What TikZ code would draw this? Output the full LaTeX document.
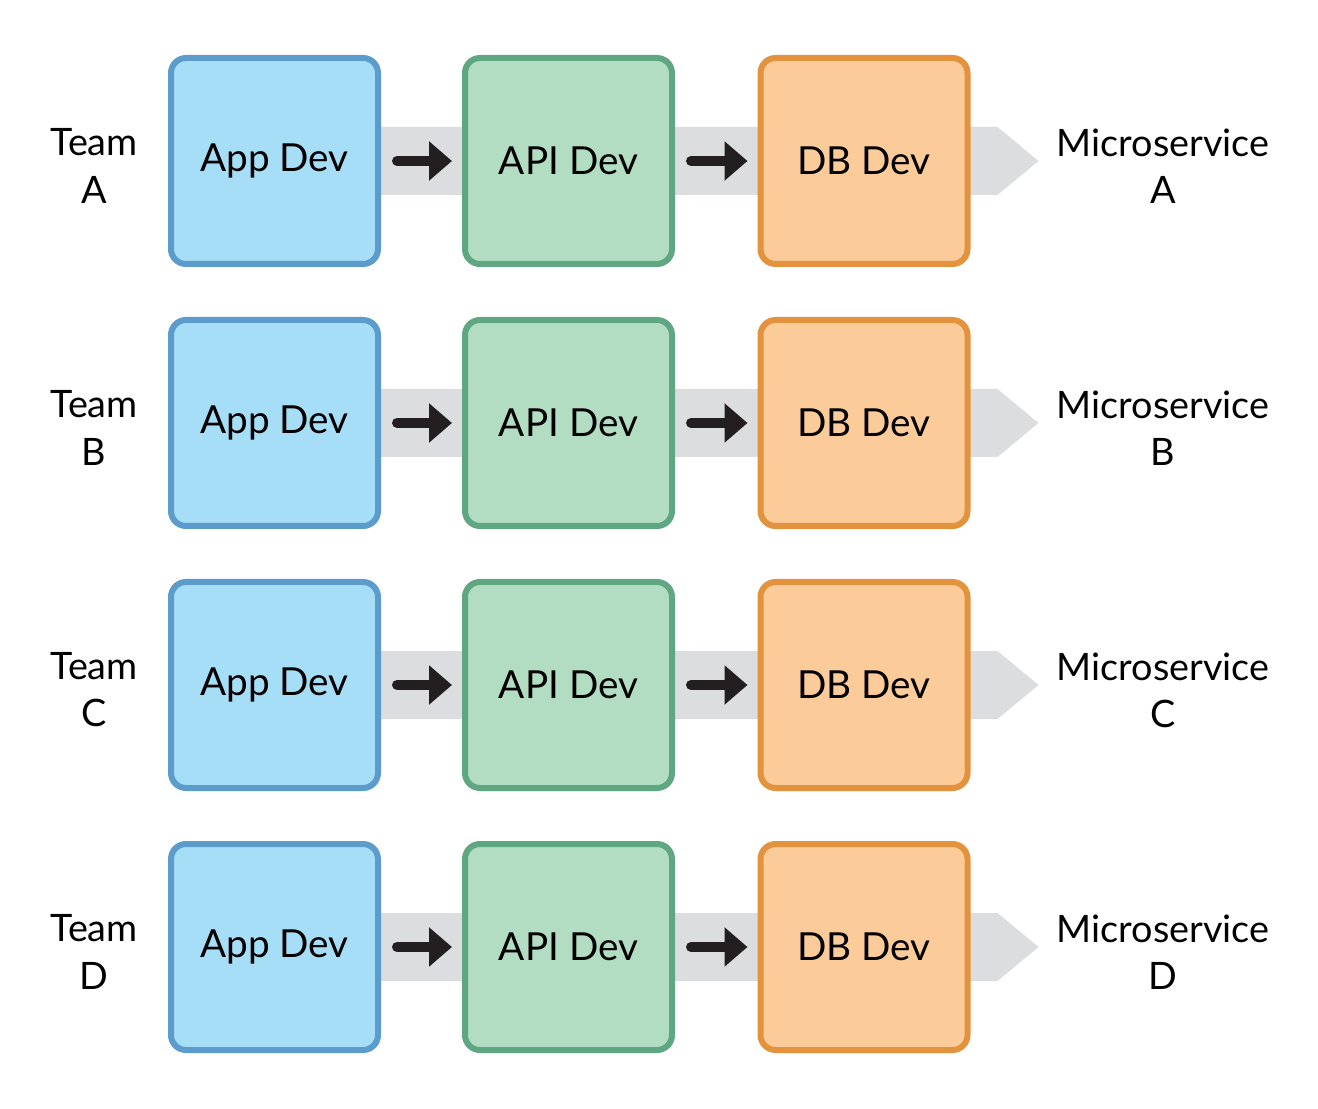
\documentclass[tikz,border=0pt]{standalone}
\usepackage{fontspec}
\setmainfont{Lato}
\usetikzlibrary{positioning,arrows.meta,calc,backgrounds}

\definecolor{appfill}{HTML}{A7DEF7}
\definecolor{appline}{HTML}{5B9CCC}
\definecolor{apifill}{HTML}{B2DDC3}
\definecolor{apiline}{HTML}{5FA683}
\definecolor{dbfill}{HTML}{FCCB9A}
\definecolor{dbline}{HTML}{E3923E}
\definecolor{bandgray}{HTML}{DCDDDE}
\definecolor{arrowblack}{HTML}{231F20}

\begin{document}
\begin{tikzpicture}[node distance=1.62cm,
  box/.style={rounded corners=0.3cm,line width=0.12cm,minimum width=4.14cm,
    minimum height=4.12cm,font=\fontsize{22}{26}\selectfont},
  side/.style={align=center,font=\fontsize{21.5}{26.8}\selectfont},
  flow/.style={-{Triangle[length=0.46cm,width=0.76cm]},line width=0.2cm,
    line cap=round,arrowblack,shorten <=0.32cm,shorten >=0.2cm}]
%canvas
\begin{pgfonlayer}{background}
\fill[white] (0,0) rectangle (26.36,22.16);
\end{pgfonlayer}
%rows
\foreach \t/\yy in {A/18.94,B/13.7,C/8.46,D/3.22}{
  \node[box,draw=appline,fill=appfill] (app\t) at (5.49,\yy) {App Dev};
  \node[box,draw=apiline,fill=apifill,right=of app\t] (api\t) {API Dev};
  \node[box,draw=dbline,fill=dbfill,right=1.65cm of api\t] (db\t) {DB Dev};
  %gray band behind the boxes
  \begin{pgfonlayer}{background}
  \fill[bandgray] ($(app\t.center)+(0,0.68)$) -- ($(db\t.east)+(0.54,0.68)$)
    -- ($(db\t.east)+(1.36,0)$) -- ($(db\t.east)+(0.54,-0.68)$)
    -- ($(app\t.center)+(0,-0.68)$) -- cycle;
  \end{pgfonlayer}
  \draw[flow] (app\t) -- (api\t);
  \draw[flow] (api\t) -- (db\t);
  %labels
  \node[side] (team\t) at (1.88,\yy-0.1) {Team\\\t};
  \node[side] (ms\t) at (23.26,\yy-0.1) {Microservice\\\t};
}
\end{tikzpicture}
\end{document}
